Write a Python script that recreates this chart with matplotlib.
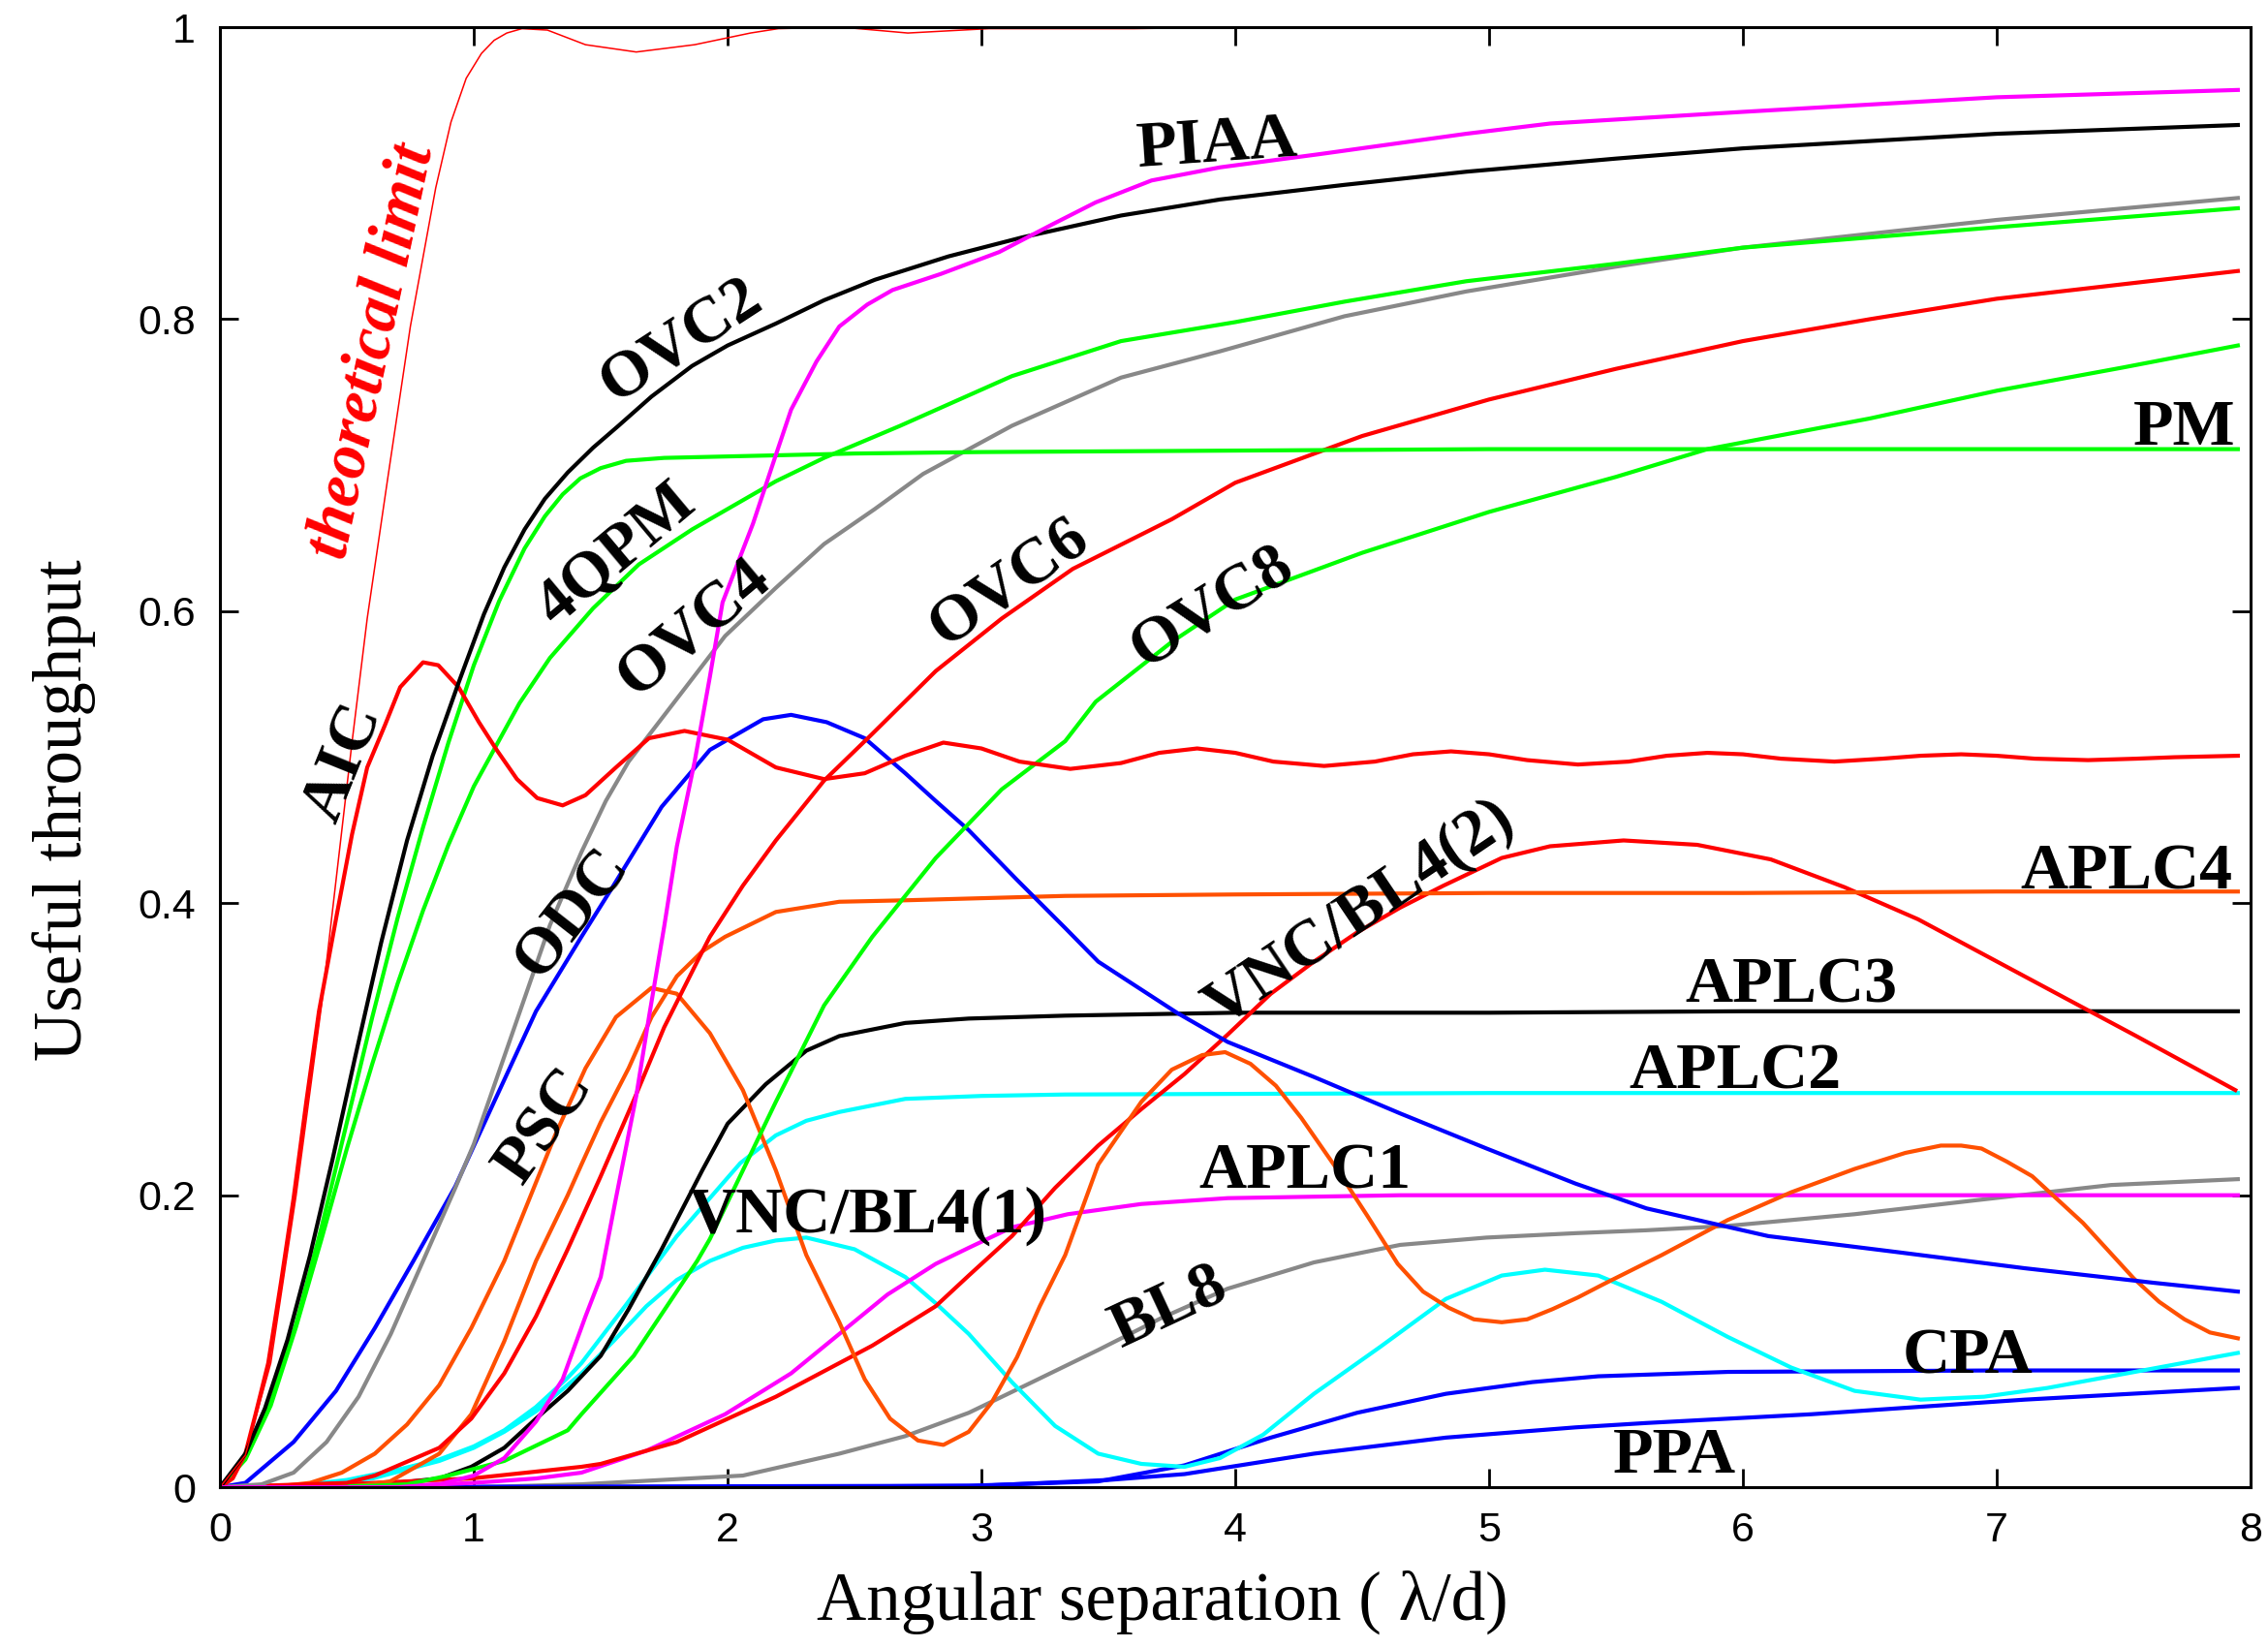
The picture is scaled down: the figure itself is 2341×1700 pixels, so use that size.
import matplotlib
matplotlib.use("Agg")
import matplotlib.pyplot as plt

# throughput curves, x in lambda/d, y = useful throughput
theory_x = [0, 0.1, 0.2, 0.3, 0.4, 0.46, 0.52, 0.58, 0.66, 0.75, 0.85, 0.91, 0.97, 1.03, 1.08,
            1.13, 1.19, 1.29, 1.44, 1.64, 1.87, 2.09, 2.2, 2.45, 2.71, 3.03, 3.6, 4.0, 5.0, 6.0,
            7.0, 7.95]
theory_y = [0, 0.022, 0.085, 0.2, 0.33, 0.42, 0.51, 0.595, 0.69, 0.795, 0.89, 0.935, 0.965, 0.982,
            0.991, 0.996, 0.999, 0.998, 0.988, 0.983, 0.988, 0.996, 0.999, 1.0, 0.996, 0.999, 0.999,
            1.0, 1.0, 1.0, 1.0, 1.0]

aic_x = [0, 0.05, 0.1, 0.14, 0.19, 0.24, 0.29, 0.34, 0.39, 0.46, 0.52, 0.58, 0.65, 0.71, 0.8, 0.86,
         0.94, 1.02, 1.09, 1.17, 1.25, 1.35, 1.44, 1.56, 1.69, 1.83, 2.0, 2.19, 2.38, 2.54, 2.7, 2.85,
         3.0, 3.15, 3.35, 3.55, 3.7, 3.85, 4.0, 4.15, 4.35, 4.55, 4.7, 4.85, 5.0, 5.15, 5.35, 5.55,
         5.7, 5.86, 6.0, 6.15, 6.36, 6.55, 6.7, 6.86, 7.0, 7.15, 7.36, 7.55, 7.7, 7.95]
aic_y = [0, 0.006, 0.023, 0.05, 0.085, 0.14, 0.198, 0.264, 0.326, 0.392, 0.447, 0.493, 0.522, 0.548,
         0.565, 0.563, 0.548, 0.524, 0.505, 0.485, 0.472, 0.467, 0.474, 0.493, 0.513, 0.518, 0.512,
         0.493, 0.485, 0.489, 0.501, 0.51, 0.506, 0.497, 0.492, 0.496, 0.503, 0.506, 0.503, 0.497,
         0.494, 0.497, 0.502, 0.504, 0.502, 0.498, 0.495, 0.497, 0.501, 0.503, 0.502, 0.499, 0.497,
         0.499, 0.501, 0.502, 0.501, 0.499, 0.498, 0.499, 0.5, 0.501]

ovc2_x = [0, 0.1, 0.177, 0.266, 0.355, 0.444, 0.533, 0.635, 0.737, 0.838, 0.94, 1.04, 1.12, 1.2,
          1.28, 1.37, 1.47, 1.57, 1.7, 1.86, 2.0, 2.19, 2.38, 2.58, 2.87, 3.16, 3.55, 3.94, 4.43,
          4.91, 5.5, 6.0, 7.0, 7.95]
ovc2_y = [0, 0.023, 0.054, 0.101, 0.159, 0.225, 0.295, 0.373, 0.443, 0.501, 0.551, 0.598, 0.63,
          0.656, 0.677, 0.695, 0.712, 0.727, 0.747, 0.768, 0.782, 0.797, 0.813, 0.827, 0.843, 0.856,
          0.871, 0.882, 0.892, 0.901, 0.91, 0.917, 0.927, 0.933]

pm_x = [0, 0.1, 0.2, 0.3, 0.4, 0.5, 0.6, 0.7, 0.8, 0.9, 1.0, 1.1, 1.2, 1.28, 1.35, 1.42, 1.5, 1.6,
        1.75, 2.0, 2.5, 3.0, 4.0, 5.0, 6.0, 7.0, 7.95]
pm_y = [0, 0.02, 0.058, 0.112, 0.178, 0.25, 0.322, 0.39, 0.452, 0.51, 0.563, 0.607, 0.643, 0.665,
        0.68, 0.691, 0.698, 0.703, 0.705, 0.706, 0.708, 0.709, 0.71, 0.711, 0.711, 0.711, 0.711]

qpm_x = [0, 0.1, 0.2, 0.3, 0.4, 0.5, 0.6, 0.7, 0.8, 0.9, 1.0, 1.18, 1.3, 1.47, 1.65, 1.86, 2.19,
         2.38, 2.68, 3.12, 3.55, 4.0, 4.43, 4.91, 5.5, 6.0, 7.0, 7.95]
qpm_y = [0, 0.019, 0.056, 0.11, 0.17, 0.232, 0.29, 0.345, 0.395, 0.44, 0.48, 0.537, 0.568, 0.602,
         0.632, 0.656, 0.689, 0.705, 0.727, 0.761, 0.785, 0.798, 0.812, 0.826, 0.838, 0.849, 0.863,
         0.876]

ovc4_x = [0, 0.164, 0.29, 0.42, 0.546, 0.673, 0.8, 0.927, 1.0, 1.1, 1.2, 1.3, 1.424, 1.52, 1.61,
          1.8, 1.99, 2.19, 2.38, 2.58, 2.77, 3.12, 3.55, 3.94, 4.43, 4.91, 5.5, 6.0, 7.0, 7.95]
ovc4_y = [0, 0.002, 0.01, 0.031, 0.062, 0.105, 0.155, 0.205, 0.235, 0.285, 0.335, 0.385, 0.435,
          0.47, 0.497, 0.54, 0.583, 0.616, 0.646, 0.67, 0.694, 0.727, 0.76, 0.778, 0.802, 0.819,
          0.836, 0.849, 0.868, 0.883]

odc_x = [0, 0.1, 0.29, 0.457, 0.61, 0.762, 0.927, 1.08, 1.245, 1.424, 1.55, 1.74, 1.93, 2.14, 2.25,
         2.39, 2.54, 2.7, 2.82, 2.95, 3.14, 3.33, 3.46, 3.77, 3.97, 4.31, 4.65, 4.99, 5.34, 5.62,
         6.1, 6.61, 7.11, 7.62, 7.95]
odc_y = [0, 0.003, 0.031, 0.066, 0.109, 0.155, 0.206, 0.264, 0.326, 0.377, 0.412, 0.466, 0.505,
         0.526, 0.529, 0.524, 0.513, 0.489, 0.47, 0.45, 0.416, 0.383, 0.36, 0.325, 0.305, 0.281,
         0.256, 0.232, 0.208, 0.191, 0.172, 0.161, 0.15, 0.14, 0.134]

psc_x = [0, 0.2, 0.355, 0.48, 0.61, 0.737, 0.864, 0.99, 1.12, 1.22, 1.32, 1.44, 1.56, 1.7, 1.8,
         1.93, 2.06, 2.19, 2.31, 2.44, 2.54, 2.64, 2.75, 2.85, 2.95, 3.04, 3.14, 3.23, 3.33, 3.46,
         3.63, 3.75, 3.87, 3.96, 4.06, 4.16, 4.26, 4.4, 4.52, 4.64, 4.74, 4.84, 4.94, 5.05, 5.15,
         5.25, 5.35, 5.45, 5.68, 5.94, 6.19, 6.44, 6.64, 6.78, 6.86, 6.94, 7.04, 7.14, 7.24, 7.34,
         7.44, 7.54, 7.64, 7.74, 7.84, 7.95]
psc_y = [0, 0.0, 0.003, 0.01, 0.023, 0.043, 0.07, 0.109, 0.155, 0.198, 0.241, 0.287, 0.322, 0.342,
         0.338, 0.311, 0.272, 0.217, 0.159, 0.113, 0.074, 0.047, 0.032, 0.029, 0.038, 0.058, 0.089,
         0.124, 0.159, 0.221, 0.264, 0.286, 0.296, 0.298, 0.29, 0.275, 0.253, 0.218, 0.186, 0.153,
         0.134, 0.123, 0.115, 0.113, 0.115, 0.122, 0.13, 0.139, 0.159, 0.183, 0.202, 0.218, 0.229,
         0.234, 0.234, 0.232, 0.223, 0.213, 0.197, 0.181, 0.162, 0.143, 0.127, 0.115, 0.106, 0.102]

aplc4_x = [0, 0.5, 0.67, 0.864, 0.99, 1.12, 1.245, 1.37, 1.424, 1.5, 1.61, 1.7, 1.8, 1.9, 1.99,
           2.19, 2.44, 2.7, 3.33, 4.0, 5.0, 6.0, 7.0, 7.95]
aplc4_y = [0, 0.0, 0.004, 0.023, 0.05, 0.1, 0.155, 0.2, 0.221, 0.25, 0.287, 0.322, 0.35, 0.367,
           0.377, 0.394, 0.401, 0.402, 0.405, 0.406, 0.407, 0.407, 0.408, 0.408]

ovc6_x = [0, 0.5, 0.61, 0.864, 0.99, 1.12, 1.245, 1.37, 1.5, 1.63, 1.75, 1.88, 1.93, 2.06, 2.19,
          2.38, 2.57, 2.82, 3.08, 3.36, 3.75, 4.0, 4.5, 5.0, 5.5, 6.0, 6.5, 7.0, 7.5, 7.95]
ovc6_y = [0, 0.003, 0.008, 0.027, 0.047, 0.078, 0.117, 0.163, 0.213, 0.265, 0.315, 0.36, 0.377,
          0.412, 0.443, 0.484, 0.516, 0.559, 0.595, 0.629, 0.663, 0.688, 0.72, 0.745, 0.766, 0.785,
          0.8, 0.814, 0.824, 0.833]

ovc8_x = [0, 0.6, 0.737, 0.9, 1.12, 1.37, 1.424, 1.63, 1.88, 1.93, 2.19, 2.38, 2.57, 2.82, 3.08,
          3.33, 3.45, 3.75, 4.0, 4.5, 5.0, 5.5, 5.86, 6.5, 7.0, 7.5, 7.95]
ovc8_y = [0, 0.001, 0.002, 0.008, 0.018, 0.039, 0.05, 0.09, 0.155, 0.17, 0.264, 0.33, 0.377, 0.431,
          0.478, 0.511, 0.538, 0.579, 0.608, 0.64, 0.668, 0.692, 0.711, 0.732, 0.751, 0.767, 0.782]

piaa_x = [0, 0.7, 0.864, 1.0, 1.12, 1.245, 1.35, 1.44, 1.5, 1.56, 1.64, 1.69, 1.75, 1.8, 1.87,
          1.93, 1.98, 2.1, 2.19, 2.25, 2.35, 2.44, 2.55, 2.65, 2.84, 3.07, 3.28, 3.45, 3.67, 3.94,
          4.33, 4.62, 4.91, 5.24, 6.0, 7.0, 7.95]
piaa_y = [0, 0.0, 0.002, 0.008, 0.02, 0.045, 0.074, 0.117, 0.144, 0.198, 0.268, 0.322, 0.384, 0.439,
          0.497, 0.555, 0.606, 0.66, 0.707, 0.738, 0.771, 0.795, 0.81, 0.82, 0.831, 0.846, 0.865,
          0.88, 0.895, 0.904, 0.913, 0.92, 0.927, 0.934, 0.942, 0.952, 0.957]

aplc3_x = [0, 0.3, 0.7, 0.864, 0.99, 1.12, 1.245, 1.37, 1.5, 1.61, 1.74, 1.9, 2.0, 2.15, 2.31,
           2.44, 2.7, 2.95, 3.33, 4.0, 5.0, 6.0, 7.0, 7.95]
aplc3_y = [0, 0.0, 0.003, 0.006, 0.014, 0.027, 0.047, 0.066, 0.09, 0.122, 0.163, 0.217, 0.249,
           0.276, 0.299, 0.309, 0.318, 0.321, 0.323, 0.325, 0.325, 0.326, 0.326, 0.326]

aplc2_x = [0, 0.3, 0.5, 0.7, 0.864, 1.0, 1.12, 1.245, 1.37, 1.424, 1.6, 1.8, 1.93, 2.05, 2.19,
           2.31, 2.44, 2.7, 3.0, 3.33, 5.0, 7.95]
aplc2_y = [0, 0.001, 0.005, 0.012, 0.019, 0.028, 0.039, 0.055, 0.075, 0.085, 0.125, 0.172, 0.198,
           0.222, 0.241, 0.251, 0.257, 0.266, 0.268, 0.269, 0.27, 0.27]

vnc1_x = [0, 0.3, 0.6, 0.864, 1.0, 1.12, 1.245, 1.424, 1.55, 1.68, 1.8, 1.93, 2.06, 2.19, 2.31,
          2.5, 2.7, 2.82, 2.95, 3.12, 3.29, 3.46, 3.63, 3.8, 3.94, 4.11, 4.31, 4.57, 4.83, 5.05,
          5.22, 5.43, 5.68, 5.94, 6.19, 6.44, 6.7, 6.95, 7.2, 7.45, 7.7, 7.95]
vnc1_y = [0, 0.001, 0.006, 0.018, 0.027, 0.038, 0.052, 0.078, 0.1, 0.124, 0.142, 0.155, 0.164,
          0.169, 0.171, 0.163, 0.144, 0.126, 0.105, 0.072, 0.042, 0.023, 0.016, 0.014, 0.02, 0.036,
          0.064, 0.096, 0.129, 0.145, 0.149, 0.145, 0.127, 0.103, 0.082, 0.066, 0.06, 0.062, 0.068,
          0.076, 0.084, 0.092]

aplc1_x = [0, 0.6, 1.0, 1.245, 1.424, 1.68, 1.99, 2.25, 2.44, 2.63, 2.82, 2.95, 3.12, 3.34, 3.63,
           3.97, 4.65, 6.0, 7.95]
aplc1_y = [0, 0.0, 0.003, 0.006, 0.01, 0.025, 0.05, 0.078, 0.105, 0.132, 0.153, 0.164, 0.178, 0.187,
           0.194, 0.198, 0.2, 0.2, 0.2]

vnc2_x = [0, 0.48, 0.99, 1.424, 1.5, 1.8, 2.19, 2.57, 2.82, 2.95, 3.12, 3.29, 3.46, 3.63, 3.8,
          3.97, 4.14, 4.31, 4.48, 4.65, 4.82, 5.05, 5.24, 5.53, 5.82, 6.11, 6.4, 6.69, 6.98, 7.27,
          7.55, 7.94]
vnc2_y = [0, 0.002, 0.006, 0.014, 0.016, 0.031, 0.062, 0.097, 0.124, 0.145, 0.172, 0.205, 0.234,
          0.259, 0.283, 0.31, 0.338, 0.36, 0.38, 0.397, 0.412, 0.431, 0.439, 0.443, 0.44, 0.43,
          0.411, 0.389, 0.362, 0.335, 0.309, 0.272]

bl8_x = [0, 1.0, 1.424, 2.06, 2.44, 2.7, 2.95, 3.2, 3.46, 3.71, 3.97, 4.31, 4.65, 4.99, 5.34, 5.62,
         5.94, 6.44, 6.94, 7.45, 7.95]
bl8_y = [0, 0.0, 0.002, 0.008, 0.023, 0.035, 0.051, 0.072, 0.094, 0.116, 0.136, 0.154, 0.166,
         0.171, 0.174, 0.176, 0.179, 0.187, 0.197, 0.207, 0.211]

cpa_x = [0, 2.0, 2.95, 3.46, 3.8, 4.14, 4.48, 4.83, 5.17, 5.43, 5.94, 7.0, 7.95]
cpa_y = [0, 0.0, 0.001, 0.004, 0.015, 0.034, 0.051, 0.064, 0.072, 0.076, 0.079, 0.08, 0.08]

ppa_x = [0, 3.0, 3.5, 3.8, 4.31, 4.83, 5.34, 5.62, 6.27, 7.11, 7.95]
ppa_y = [0, 0.001, 0.005, 0.009, 0.023, 0.034, 0.041, 0.044, 0.05, 0.06, 0.068]

RED, GREEN, BLACK, GRAY = "#ff0000", "#00ff00", "#000000", "#888888"
BLUE, MAGENTA, CYAN, ORANGE = "#0000ff", "#ff00ff", "#00ffff", "#ff5000"

curves = [
    (bl8_x, bl8_y, GRAY),
    (ppa_x, ppa_y, BLUE),
    (cpa_x, cpa_y, BLUE),
    (vnc1_x, vnc1_y, CYAN),
    (aplc1_x, aplc1_y, MAGENTA),
    (aplc2_x, aplc2_y, CYAN),
    (aplc3_x, aplc3_y, BLACK),
    (vnc2_x, vnc2_y, RED),
    (psc_x, psc_y, ORANGE),
    (aplc4_x, aplc4_y, ORANGE),
    (odc_x, odc_y, BLUE),
    (ovc8_x, ovc8_y, GREEN),
    (ovc6_x, ovc6_y, RED),
    (ovc4_x, ovc4_y, GRAY),
    (qpm_x, qpm_y, GREEN),
    (pm_x, pm_y, GREEN),
    (aic_x, aic_y, RED),
    (ovc2_x, ovc2_y, BLACK),
    (piaa_x, piaa_y, MAGENTA),
]

fig = plt.figure(figsize=(23.41, 17.0), dpi=100)
ax = fig.add_axes([0.097, 0.097, 0.8953, 0.8865])

for xs, ys, col in curves:
    ax.plot(xs, ys, color=col, lw=3.0, solid_joinstyle="round")
ax.plot(theory_x, theory_y, color=RED, lw=1.1)

ax.set_xlim(0, 8)
ax.set_ylim(0, 1)
ax.set_xticks(range(9))
ax.set_yticks([0, 0.2, 0.4, 0.6, 0.8, 1])
ax.set_yticklabels(["0", "0.2", "0.4", "0.6", "0.8", "1"])
ax.tick_params(direction="in", length=14, width=2, top=True, right=True, pad=18,
               labelsize=31)
for lab in ax.get_xticklabels() + ax.get_yticklabels():
    lab.set_family("Liberation Sans")
for sp in ax.spines.values():
    sp.set_linewidth(2.2)

ax.set_xlabel("Angular separation ( \u03bb/d)", family="Liberation Serif", fontsize=51)
ax.set_ylabel("Useful throughput", family="Liberation Serif", fontsize=51)
ax.xaxis.set_label_coords(0.464, -0.057)
ax.yaxis.set_label_coords(-0.061, 0.464)

lab_kw = dict(family="Liberation Serif", weight="bold", fontsize=49, color="black",
              rotation_mode="anchor")

# rotated labels following the curves
ax.text(0.603, 0.778, "theoretical limit", family="Liberation Serif", weight="bold",
        style="italic", fontsize=48, color=RED, rotation=78, rotation_mode="anchor",
        ha="center", va="center")
for txt, x, y, rot in [("AIC", 0.489, 0.496, 68), ("OVC2", 1.82, 0.785, 33),
                       ("4QPM", 1.56, 0.638, 40), ("OVC4", 1.87, 0.588, 40),
                       ("ODC", 1.39, 0.393, 52), ("PSC", 1.28, 0.247, 55),
                       ("OVC6", 3.11, 0.619, 35), ("OVC8", 3.91, 0.602, 32),
                       ("PIAA", 3.93, 0.919, 4), ("VNC/BL4(2)", 4.49, 0.393, 34),
                       ("BL8", 3.74, 0.123, 25)]:
    ax.text(x, y, txt, rotation=rot, ha="center", va="center", **lab_kw)

# flat labels resting on their curves
for txt, x, y, ha in [("PM", 7.94, 0.714, "right"), ("APLC4", 7.93, 0.41, "right"),
                      ("APLC3", 6.19, 0.332, "center"), ("APLC2", 5.97, 0.273, "center"),
                      ("APLC1", 4.275, 0.205, "center"), ("VNC/BL4(1)", 2.55, 0.175, "center"),
                      ("CPA", 6.885, 0.078, "center"), ("PPA", 5.73, 0.01, "center")]:
    ax.text(x, y, txt, ha=ha, va="baseline", **lab_kw)

fig.savefig("out.png", dpi=100)
